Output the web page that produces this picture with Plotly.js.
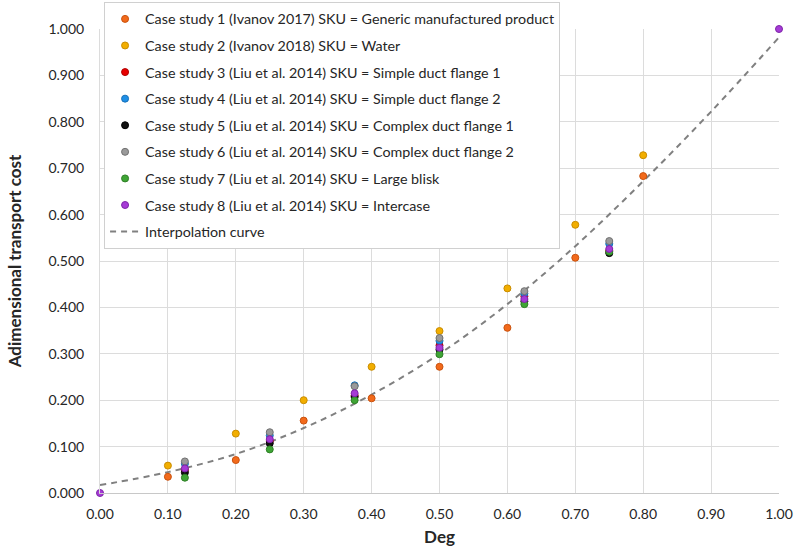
<!DOCTYPE html>
<html>
<head>
<meta charset="utf-8">
<script src="https://cdn.plot.ly/plotly-3.0.1.min.js"></script>
<style>html,body{margin:0;padding:0;background:#fff;}#chart{width:795px;height:554px;}</style>
</head>
<body>
<div id="chart"></div>
<script>
// Case studies data (Deg, adimensional transport cost)
const case1X = [0.1, 0.2, 0.3, 0.4, 0.5, 0.6, 0.7, 0.8];
const case1Y = [0.035, 0.071, 0.156, 0.204, 0.272, 0.356, 0.507, 0.683];
const case2X = [0.1, 0.2, 0.3, 0.4, 0.5, 0.6, 0.7, 0.8];
const case2Y = [0.059, 0.128, 0.200, 0.272, 0.349, 0.441, 0.578, 0.728];
const liuX = [0.125, 0.25, 0.375, 0.5, 0.625, 0.75];
const case3Y = [0.050, 0.112, 0.210, 0.318, 0.424, 0.522];
const case4Y = [0.063, 0.124, 0.232, 0.328, 0.430, 0.537];
const case5Y = [0.044, 0.107, 0.207, 0.309, 0.413, 0.517];
const case6Y = [0.068, 0.131, 0.230, 0.334, 0.435, 0.543];
const case7Y = [0.033, 0.094, 0.200, 0.299, 0.407, 0.520];
const case8X = [0, 0.125, 0.25, 0.375, 0.5, 0.625, 0.75, 1];
const case8Y = [0, 0.053, 0.116, 0.215, 0.313, 0.418, 0.526, 1];
const curveX = [0, 0.1, 0.2, 0.3, 0.4, 0.5, 0.6, 0.7, 0.8, 0.9, 1.0];
const curveY = [0.017, 0.045, 0.084, 0.140, 0.212, 0.300, 0.407, 0.532, 0.672, 0.822, 0.982];

const names = [
  'Case study 1 (Ivanov 2017) SKU = Generic manufactured product',
  'Case study 2 (Ivanov 2018) SKU = Water',
  'Case study 3 (Liu et al. 2014) SKU = Simple duct flange 1',
  'Case study 4 (Liu et al. 2014) SKU = Simple duct flange 2',
  'Case study 5 (Liu et al. 2014) SKU = Complex duct flange 1',
  'Case study 6 (Liu et al. 2014) SKU = Complex duct flange 2',
  'Case study 7 (Liu et al. 2014) SKU = Large blisk',
  'Case study 8 (Liu et al. 2014) SKU = Intercase',
  'Interpolation curve'
];
const fills = ['#F26A1B', '#F2AE00', '#E80000', '#1E8FE6', '#111111', '#9A9A9A', '#3FA535', '#A63BD6'];
const edges = ['#C9520E', '#C98C00', '#B00000', '#1670B8', '#000000', '#707070', '#2E7F26', '#7E26A8'];

const xs = [case1X, case2X, liuX, liuX, liuX, liuX, liuX, case8X];
const ys = [case1Y, case2Y, case3Y, case4Y, case5Y, case6Y, case7Y, case8Y];

const traces = [];
for (let i = 0; i < 8; i++) {
  traces.push({
    x: xs[i], y: ys[i], name: names[i], type: 'scatter', mode: 'markers',
    legendgroup: 'g' + i, legendrank: i + 1, cliponaxis: false,
    marker: {size: 7, color: fills[i], line: {color: edges[i], width: 1}}
  });
}
const curve = {
  x: curveX, y: curveY, name: names[8], type: 'scatter', mode: 'lines',
  legendgroup: 'g8', legendrank: 100,
  line: {color: '#808080', width: 2, dash: '6px,5px', shape: 'spline', smoothing: 1}
};
// draw curve below markers
const data = [curve].concat(traces);

const font = 'Lato, "Open Sans", sans-serif';
const layout = {
  width: 795, height: 554,
  margin: {l: 100, r: 16, t: 29, b: 61, autoexpand: false},
  paper_bgcolor: '#ffffff', plot_bgcolor: '#ffffff',
  font: {family: font, size: 14, color: '#404040'},
  showlegend: true,
  legend: {
    x: 0.006, y: 1.058, xanchor: 'left', yanchor: 'top',
    bgcolor: '#ffffff', bordercolor: '#d0d0d0', borderwidth: 1,
    font: {family: font, size: 14.3, color: '#262626'},
    tracegroupgap: 5, traceorder: 'grouped'
  },
  xaxis: {
    range: [0, 1], dtick: 0.1, tick0: 0, tickformat: '.2f',
    showgrid: true, gridcolor: '#dcdcdc', gridwidth: 1,
    zeroline: false, showline: true, linecolor: '#c8c8c8', linewidth: 1,
    ticks: '', ticklabelstandoff: 8, automargin: false,
    tickfont: {family: font, size: 14, color: '#262626'},
    title: {text: '<b>Deg</b>', font: {family: font, size: 17, color: '#262626'}, standoff: 10}
  },
  yaxis: {
    range: [0, 1], dtick: 0.1, tick0: 0, tickformat: '.3f',
    showgrid: true, gridcolor: '#dcdcdc', gridwidth: 1,
    zeroline: false, showline: true, linecolor: '#dcdcdc', linewidth: 1,
    ticks: '', ticklabelstandoff: 12, automargin: false,
    tickfont: {family: font, size: 14, color: '#262626'},
    title: {text: '<b>Adimensional transport cost</b>', font: {family: font, size: 17, color: '#262626'}, standoff: 22}
  }
};

Plotly.newPlot('chart', data, layout, {displayModeBar: false, staticPlot: true});
</script>
</body>
</html>
